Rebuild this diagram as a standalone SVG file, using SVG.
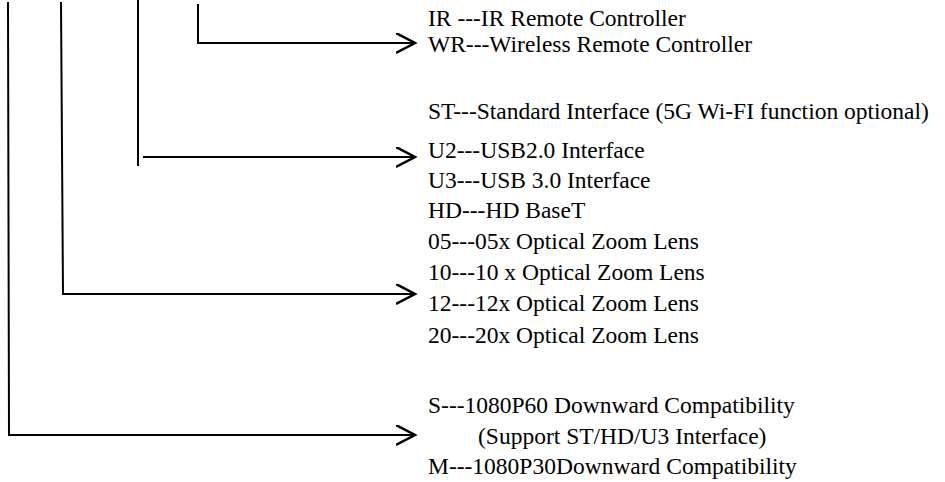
<svg xmlns="http://www.w3.org/2000/svg" width="945" height="482" viewBox="0 0 945 482">
<style>
.c{fill:none;stroke:#000;stroke-width:2}
.t{font-family:"Liberation Serif",serif;font-size:23.5px;fill:#000}
</style>
<defs>
<marker id="ah" markerUnits="userSpaceOnUse" markerWidth="24" markerHeight="24" refX="19" refY="10" orient="auto" viewBox="0 0 24 24">
<path d="M0,0 L19,10 L0,20" fill="none" stroke="#000" stroke-width="2.5"/>
</marker>
</defs>
<rect width="945" height="482" fill="#fff"/>
<g id="connectors">
<path class="c" d="M8,2 L9,435 L415,435" marker-end="url(#ah)"/>
<path class="c" d="M61,2 L63,294 L415,294" marker-end="url(#ah)"/>
<path class="c" d="M138,0 L138,166"/>
<path class="c" d="M143,157 L415,157" marker-end="url(#ah)"/>
<path class="c" d="M198,4 L198,43 L415,43" marker-end="url(#ah)"/>
</g>
<g id="remote">
<text class="t" x="428" y="26">IR ---IR Remote Controller</text>
<text class="t" x="428" y="52">WR---Wireless Remote Controller</text>
</g>
<g id="interface">
<text class="t" x="428" y="119">ST---Standard Interface (5G Wi-FI function optional)</text>
<text class="t" x="428" y="158">U2---USB2.0 Interface</text>
<text class="t" x="428" y="188">U3---USB 3.0 Interface</text>
<text class="t" x="428" y="218">HD---HD BaseT</text>
</g>
<g id="zoom">
<text class="t" x="428" y="249">05---05x Optical Zoom Lens</text>
<text class="t" x="428" y="280">10---10 x Optical Zoom Lens</text>
<text class="t" x="428" y="311">12---12x Optical Zoom Lens</text>
<text class="t" x="428" y="343">20---20x Optical Zoom Lens</text>
</g>
<g id="resolution">
<text class="t" x="428" y="413">S---1080P60 Downward Compatibility</text>
<text class="t" x="478" y="444">(Support ST/HD/U3 Interface)</text>
<text class="t" x="428" y="474">M---1080P30Downward Compatibility</text>
</g>
</svg>
